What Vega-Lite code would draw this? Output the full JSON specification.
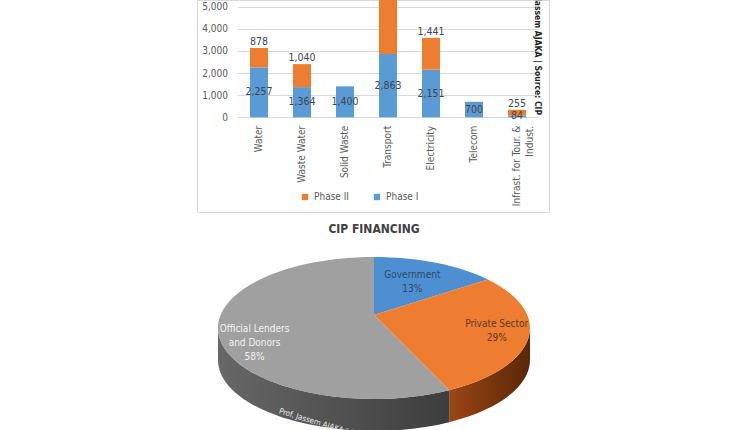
{
  "$schema": "https://vega.github.io/schema/vega-lite/v6.json",
  "autosize": {"type": "none"},
  "padding": {"left": 197, "top": 0, "right": 553, "bottom": 430},
  "bounds": "flush",
  "spacing": 28,
  "resolve": {"scale": {"color": "independent", "fill": "independent", "x": "independent", "y": "independent"}},
  "config": {
    "font": "DejaVu Sans Condensed",
    "view": {"stroke": null},
    "axis": {"labelFontSize": 10, "labelColor": "#595959"},
    "legend": {"labelFontSize": 10, "labelColor": "#595959"}
  },
  "vconcat": [
    {
      "width": 352,
      "height": 212,
      "view": {"stroke": "#d9d9d9", "strokeWidth": 1},
      "title": {
        "text": "Prof. Jassem AJAKA | Source: CIP",
        "orient": "right",
        "anchor": "end",
        "frame": "group",
        "offset": -20,
        "dx": -97,
        "baseline": "middle",
        "fontSize": 8.5,
        "fontWeight": "bold",
        "color": "#262626"
      },
      "data": {
        "values": [
          {"cat": "Water", "phase": "Phase I", "value": 2257},
          {"cat": "Water", "phase": "Phase II", "value": 878},
          {"cat": "Waste Water", "phase": "Phase I", "value": 1364},
          {"cat": "Waste Water", "phase": "Phase II", "value": 1040},
          {"cat": "Solid Waste", "phase": "Phase I", "value": 1400},
          {"cat": "Transport", "phase": "Phase I", "value": 2863},
          {"cat": "Transport", "phase": "Phase II", "value": 2700},
          {"cat": "Electricity", "phase": "Phase I", "value": 2151},
          {"cat": "Electricity", "phase": "Phase II", "value": 1441},
          {"cat": "Telecom", "phase": "Phase I", "value": 700},
          {"cat": "Infrast. for Tour. & Indust.", "phase": "Phase I", "value": 84},
          {"cat": "Infrast. for Tour. & Indust.", "phase": "Phase II", "value": 255}
        ]
      },
      "transform": [
        {"stack": "value", "groupby": ["cat"], "sort": [{"field": "phase", "order": "ascending"}], "as": ["v0", "v1"]},
        {"calculate": "(datum.v0 + datum.v1) / 2", "as": "vmid"}
      ],
      "encoding": {
        "x": {
          "field": "cat",
          "type": "nominal",
          "sort": null,
          "scale": {"range": [40.5, 341.5], "paddingInner": 0.58, "paddingOuter": 0.29},
          "axis": {
            "title": null,
            "offset": -94.7,
            "ticks": false,
            "domain": false,
            "grid": false,
            "labelAngle": -90,
            "labelAlign": "right",
            "labelBaseline": "middle",
            "labelPadding": 8,
            "labelLimit": 0,
            "labelLineHeight": 13,
            "labelExpr": "datum.value == 'Infrast. for Tour. & Indust.' ? ['Infrast. for Tour. &', 'Indust.'] : datum.value"
          }
        }
      },
      "layer": [
        {
          "mark": {"type": "bar", "clip": true},
          "encoding": {
            "y": {
              "field": "v0",
              "type": "quantitative",
              "scale": {"domain": [0, 5303], "range": [117.3, 0], "nice": false},
              "axis": {
                "title": null,
                "values": [0, 1000, 2000, 3000, 4000, 5000],
                "format": ",d",
                "offset": -40.5,
                "ticks": false,
                "domain": false,
                "labelPadding": 10,
                "gridColor": "#d9d9d9"
              }
            },
            "y2": {"field": "v1"},
            "color": {
              "field": "phase",
              "type": "nominal",
              "scale": {"domain": ["Phase II", "Phase I"], "range": ["#ED7D31", "#5B9BD5"]},
              "legend": {
                "orient": "none",
                "legendX": 103,
                "legendY": 192,
                "direction": "horizontal",
                "title": null,
                "symbolType": "square",
                "symbolSize": 40,
                "symbolStrokeWidth": 0,
                "columnPadding": 22,
                "padding": 0
              }
            }
          }
        },
        {
          "transform": [{"filter": "datum.phase == 'Phase I'"}],
          "mark": {"type": "text", "fontSize": 10.5, "color": "#3f4650", "baseline": "middle", "clip": true},
          "encoding": {
            "y": {
              "field": "vmid",
              "type": "quantitative",
              "axis": {
                "title": null,
                "values": [0, 1000, 2000, 3000, 4000, 5000],
                "format": ",d",
                "offset": -40.5,
                "ticks": false,
                "domain": false,
                "labelPadding": 10,
                "gridColor": "#d9d9d9"
              }
            },
            "text": {"field": "value", "type": "quantitative", "format": ",d"}
          }
        },
        {
          "transform": [{"filter": "datum.phase == 'Phase II'"}],
          "mark": {"type": "text", "fontSize": 10.5, "color": "#3f4650", "baseline": "bottom", "dy": -1, "clip": true},
          "encoding": {
            "y": {
              "field": "v1",
              "type": "quantitative",
              "axis": {
                "title": null,
                "values": [0, 1000, 2000, 3000, 4000, 5000],
                "format": ",d",
                "offset": -40.5,
                "ticks": false,
                "domain": false,
                "labelPadding": 10,
                "gridColor": "#d9d9d9"
              }
            },
            "text": {"field": "value", "type": "quantitative", "format": ",d"}
          }
        }
      ]
    },
    {
      "width": 354,
      "height": 190,
      "title": {
        "text": "CIP FINANCING",
        "fontSize": 12,
        "fontWeight": "bold",
        "color": "#404040",
        "offset": 4,
        "anchor": "middle",
        "frame": "group"
      },
      "data": {
        "values": [
          {"source": "Government", "pct": 13},
          {"source": "Private Sector", "pct": 29},
          {"source": "Official Lenders and Donors", "pct": 58}
        ]
      },
      "transform": [
        {"window": [{"op": "sum", "field": "pct", "as": "cum"}], "frame": [null, 0]},
        {"calculate": "2 * PI * (datum.cum - datum.pct) / 100", "as": "a0"},
        {"calculate": "2 * PI * datum.cum / 100", "as": "a1"},
        {"calculate": "(datum.a0 + datum.a1) / 2", "as": "am"},
        {"calculate": "max(datum.a0, PI / 2)", "as": "s0"},
        {"calculate": "min(datum.a1, 3 * PI / 2)", "as": "s1"},
        {"calculate": "'M0,-13L' + round(1560 * sin(datum.a0)) / 10 + ',' + round(-710 * cos(datum.a0)) / 10 + 'A156,71 0 ' + (datum.a1 - datum.a0 > PI ? 1 : 0) + ',1 ' + round(1560 * sin(datum.a1)) / 10 + ',' + round(-710 * cos(datum.a1)) / 10 + 'Z'", "as": "top"},
        {"calculate": "'M' + round(1560 * sin(datum.s0)) / 10 + ',' + round(-710 * cos(datum.s0)) / 10 + 'A156,71 0 0,1 ' + round(1560 * sin(datum.s1)) / 10 + ',' + round(-710 * cos(datum.s1)) / 10 + 'L' + round(1560 * sin(datum.s1)) / 10 + ',' + (round(-710 * cos(datum.s1)) / 10 + 32) + 'A156,71 0 0,0 ' + round(1560 * sin(datum.s0)) / 10 + ',' + (round(-710 * cos(datum.s0)) / 10 + 32) + 'Z'", "as": "side"},
        {"calculate": "0.5 + 0.3 * abs(sin(datum.am))", "as": "f"},
        {"calculate": "156 * datum.f * sin(datum.am)", "as": "lx"},
        {"calculate": "-13 - 71 * datum.f * cos(datum.am)", "as": "ly"},
        {"calculate": "replace(datum.source, ' and ', '\\nand ') + '\\n' + datum.pct + '%'", "as": "label"}
      ],
      "layer": [
        {
          "transform": [{"filter": "datum.source == 'Private Sector'"}],
          "mark": {
            "type": "point", "filled": true, "opacity": 1, "size": 4, "strokeWidth": 0,
            "fill": {"gradient": "linear", "x1": 0, "y1": 0, "x2": 1, "y2": 0,
              "stops": [{"offset": 0, "color": "#9a4614"}, {"offset": 1, "color": "#5a2707"}]}
          },
          "encoding": {
            "x": {"datum": 0, "type": "quantitative", "scale": {"domain": [-177, 177], "nice": false, "zero": false}, "axis": null},
            "y": {"datum": 0, "type": "quantitative", "scale": {"domain": [-88, 102], "nice": false, "zero": false, "reverse": true}, "axis": null},
            "shape": {"field": "side", "type": "nominal", "scale": null}
          }
        },
        {
          "transform": [{"filter": "datum.source == 'Official Lenders and Donors'"}],
          "mark": {
            "type": "point", "filled": true, "opacity": 1, "size": 4, "strokeWidth": 0,
            "fill": {"gradient": "linear", "x1": 0, "y1": 0, "x2": 1, "y2": 0,
              "stops": [{"offset": 0, "color": "#676767"}, {"offset": 1, "color": "#3d3d3d"}]}
          },
          "encoding": {
            "x": {"datum": 0, "type": "quantitative", "axis": null},
            "y": {"datum": 0, "type": "quantitative", "axis": null},
            "shape": {"field": "side", "type": "nominal", "scale": null}
          }
        },
        {
          "mark": {"type": "point", "filled": true, "opacity": 1, "size": 4, "strokeWidth": 0},
          "encoding": {
            "x": {"datum": 0, "type": "quantitative", "axis": null},
            "y": {"datum": 0, "type": "quantitative", "axis": null},
            "shape": {"field": "top", "type": "nominal", "scale": null},
            "color": {
              "field": "source",
              "type": "nominal",
              "scale": {"domain": ["Government", "Private Sector", "Official Lenders and Donors"], "range": ["#4e8fd1", "#ee7d31", "#a0a0a0"]},
              "legend": null
            }
          }
        },
        {
          "mark": {"type": "text", "fontSize": 10, "lineBreak": "\n", "lineHeight": 14, "baseline": "middle", "align": "center"},
          "encoding": {
            "x": {"field": "lx", "type": "quantitative", "axis": null},
            "y": {"field": "ly", "type": "quantitative", "axis": null},
            "text": {"field": "label"},
            "fill": {
              "field": "source",
              "type": "nominal",
              "scale": {"domain": ["Government", "Private Sector", "Official Lenders and Donors"], "range": ["#2f4964", "#5b3b26", "#f2f2f2"]},
              "legend": null
            }
          }
        },
        {
          "transform": [
            {"filter": "datum.source == 'Official Lenders and Donors'"},
            {"calculate": "156 * sin(217.5 * PI / 180)", "as": "wx"},
            {"calculate": "-71 * cos(217.5 * PI / 180) + 27", "as": "wy"}
          ],
          "mark": {"type": "text", "fontSize": 8, "angle": 17, "align": "left", "baseline": "middle", "color": "#e8e8e8", "text": "Prof. Jassem AJAKA | Source: CIP"},
          "encoding": {
            "x": {"field": "wx", "type": "quantitative", "axis": null},
            "y": {"field": "wy", "type": "quantitative", "axis": null}
          }
        }
      ]
    }
  ]
}
